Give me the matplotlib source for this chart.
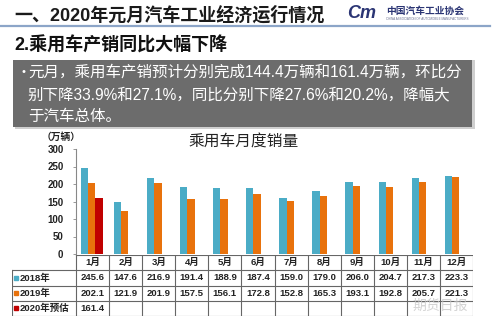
import matplotlib
matplotlib.use("Agg")
import matplotlib.pyplot as plt
from matplotlib.patches import Rectangle

plt.rcParams['font.family'] = ['Liberation Sans', 'Noto Sans CJK SC', 'DejaVu Sans']

# ---- data ----
months = ["1月", "2月", "3月", "4月", "5月", "6月", "7月", "8月", "9月", "10月", "11月", "12月"]
sales_2018 = [245.6, 147.6, 216.9, 191.4, 188.9, 187.4, 159.0, 179.0, 206.0, 204.7, 217.3, 223.3]
sales_2019 = [202.1, 121.9, 201.9, 157.5, 156.1, 172.8, 152.8, 165.3, 193.1, 192.8, 205.7, 221.3]
sales_2020 = [161.4]
series_labels = ["2018年", "2019年", "2020年预估"]
yticks = [0, 50, 100, 150, 200, 250, 300]

title = "一、2020年元月汽车工业经济运行情况"
subtitle = "2.乘用车产销同比大幅下降"
box_lines = ["元月，乘用车产销预计分别完成144.4万辆和161.4万辆，环比分",
             "别下降33.9%和27.1%，同比分别下降27.6%和20.2%，降幅大",
             "于汽车总体。"]
chart_title = "乘用车月度销量"
unit_label = "（万辆）"

C18, C19, C20 = "#4BACC6", "#E8720C", "#C00000"

W, H = 499, 328
fig = plt.figure(figsize=(W / 100, H / 100), dpi=100)
fig.patch.set_facecolor("white")


def fx(px):
    return px / W


def fy(py):
    return 1 - py / H


# ---- header ----
fig.text(fx(14), fy(15), title, fontsize=13.0, fontweight="bold", color="#1a1a1a", va="center", ha="left")
fig.add_artist(plt.Line2D([fx(0), fx(490)], [fy(26), fy(26)], color="#8CA5C8", lw=1.6))
fig.text(fx(347), fy(14), "Cm", fontsize=13, fontweight="bold", fontstyle="italic", color="#2B3574", va="center", ha="left")
fig.text(fx(386), fy(11), "中国汽车工业协会", fontsize=7, fontweight="bold", color="#2B3574", va="center", ha="left")
fig.text(fx(386), fy(19), "CHINA ASSOCIATION OF AUTOMOBILE MANUFACTURERS", fontsize=2.2, color="#6a6f90", va="center", ha="left")
fig.text(fx(14), fy(45), subtitle, fontsize=13.0, fontweight="bold", color="#111111", va="center", ha="left")

# gray box
fig.add_artist(Rectangle((fx(15), fy(129)), fx(460), 69 / H, transform=fig.transFigure, facecolor="#cfcfcf", edgecolor="none"))
fig.add_artist(Rectangle((fx(13), fy(127)), fx(459), 67 / H, transform=fig.transFigure, facecolor="#6c6c6c", edgecolor="none"))
fig.text(fx(21), fy(72), "•", fontsize=8, color="white", va="center", ha="left")
for i, (line, yc) in enumerate(zip(box_lines, [72, 95, 117])):
    fig.text(fx(28), fy(yc), line, fontsize=11.2, color="white", va="center", ha="left")

# ---- chart ----
ax = fig.add_axes([fx(76), fy(254), fx(473) - fx(76), (254 - 149) / H])
ax.set_xlim(-0.5, len(months) - 0.5)
ax.set_ylim(0, 300)
bw = 0.22
x = list(range(len(months)))
ax.bar([v - 0.245 for v in x], sales_2018, width=bw, color=C18)
ax.bar([v - 0.025 for v in x], sales_2019, width=bw, color=C19)
ax.bar([v + 0.195 for v in range(len(sales_2020))], sales_2020, width=bw, color=C20)
ax.set_yticks(yticks)
ax.set_yticklabels([str(t) for t in yticks], fontsize=7, fontweight="bold", color="#222222")
ax.set_xticks([])
for s in ["top", "right", "bottom"]:
    ax.spines[s].set_visible(False)
ax.spines["left"].set_color("#888888")
ax.spines["left"].set_linewidth(0.8)
ax.tick_params(axis="y", length=2, width=0.6, color="#888888", pad=7)
ax.patch.set_alpha(0)

fig.text(fx(61), fy(137), unit_label, fontsize=7, fontweight="bold", color="#222222", va="center", ha="center")
fig.text(fx(244), fy(142), chart_title, fontsize=11.3, color="#222222", va="center", ha="center")

# ---- table ----
lab_w = 64 / 33.08
tx = fig.add_axes([fx(12), fy(316), fx(473) - fx(12), (316 - 255) / H])
tx.set_xlim(-0.5 - lab_w, len(months) - 0.5)
tx.set_ylim(4, 0)
tx.axis("off")
lc, lw = "#666666", 0.8
left = -0.5 - lab_w
right = len(months) - 0.5
tx.plot([-0.5, right], [0, 0], color=lc, lw=lw)
for r in [1, 2, 3, 4]:
    tx.plot([left, right], [r, r], color=lc, lw=lw)
tx.plot([left, left], [1, 4], color=lc, lw=lw)
for c in range(len(months) + 1):
    tx.plot([c - 0.5, c - 0.5], [0, 4], color=lc, lw=lw)

tfs = 6.8
for i, m in enumerate(months):
    tx.text(i, 0.5, m, ha="center", va="center", fontsize=tfs, fontweight="bold", color="#222222")
rows = [sales_2018, sales_2019, sales_2020]
colors = [C18, C19, C20]
for r, (vals, lab, col) in enumerate(zip(rows, series_labels, colors)):
    yr = r + 1.5
    tx.plot([left + 0.12], [yr], marker="s", markersize=2.8, color=col, linestyle="none")
    tx.text(left + 0.22, yr, lab, ha="left", va="center", fontsize=tfs, fontweight="bold", color="#222222")
    for i, v in enumerate(vals):
        tx.text(i, yr, f"{v:.1f}", ha="center", va="center", fontsize=tfs, fontweight="bold", color="#222222")

# watermark
fig.text(fx(440), fy(306), "期货日报", fontsize=10, color="#c8c8c8", va="center", ha="center", alpha=0.8)

fig.savefig("out.png", dpi=100, facecolor="white")
